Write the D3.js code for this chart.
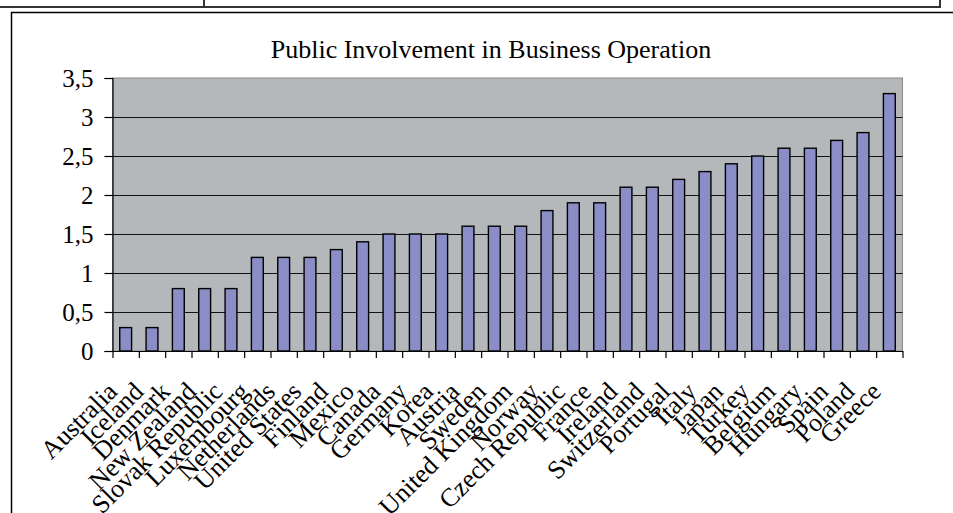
<!DOCTYPE html>
<html>
<head>
<meta charset="utf-8">
<script src="https://cdn.jsdelivr.net/npm/d3@7"></script>
<style>
  html, body { margin: 0; padding: 0; background: #fff; }
  svg { display: block; }
  text { font-family: "Liberation Serif", "Times New Roman", serif; fill: #000; }
</style>
</head>
<body>
<svg id="chart" width="953" height="513"></svg>
<script>
// Public involvement score per country, in ascending order
const countries = [
  "Australia", "Iceland", "Denmark", "New Zealand", "Slovak Republic",
  "Luxembourg", "Netherlands", "United States", "Finland", "Mexico",
  "Canada", "Germany", "Korea", "Austria", "Sweden",
  "United Kingdom", "Norway", "Czech Republic", "France", "Ireland",
  "Switzerland", "Portugal", "Italy", "Japan", "Turkey",
  "Belgium", "Hungary", "Spain", "Poland", "Greece"
];
const scores = [
  0.3, 0.3, 0.8, 0.8, 0.8,
  1.2, 1.2, 1.2, 1.3, 1.4,
  1.5, 1.5, 1.5, 1.6, 1.6,
  1.6, 1.8, 1.9, 1.9, 2.1,
  2.1, 2.2, 2.3, 2.4, 2.5,
  2.6, 2.6, 2.7, 2.8, 3.3
];
const yTicks = [0, 0.5, 1, 1.5, 2, 2.5, 3, 3.5];
const yTickLabels = ["0", "0,5", "1", "1,5", "2", "2,5", "3", "3,5"];
const title = "Public Involvement in Business Operation";

const svg = d3.select("#chart");

// Frame lines of the surrounding document
const frame = svg.append("g").attr("fill", "none");
frame.append("path")
  .attr("d", "M0,7 H940 V0 M204,0 V7")
  .attr("stroke", "#333").attr("stroke-width", 2);
frame.append("path")
  .attr("d", "M11.5,513 V12.5 H953")
  .attr("stroke", "#000").attr("stroke-width", 1.5);

// Plot area
const plot = { left: 112.5, right: 902.5, top: 78, bottom: 351 };

const x = d3.scaleBand()
  .domain(countries)
  .range([plot.left, plot.right])
  .paddingInner(0.55)
  .paddingOuter(0.275);

const xEdges = d3.scaleLinear()
  .domain([0, countries.length])
  .range([plot.left, plot.right]);

const y = d3.scaleLinear()
  .domain([0, 3.5])
  .range([plot.bottom, plot.top]);

// Title
svg.append("text")
  .attr("x", 491)
  .attr("y", 58)
  .attr("text-anchor", "middle")
  .attr("font-size", 26)
  .text(title);

// Background
svg.append("rect")
  .attr("x", plot.left).attr("y", plot.top)
  .attr("width", plot.right - plot.left)
  .attr("height", plot.bottom - plot.top)
  .attr("fill", "#b5b8bb")
  .attr("stroke", "#8a8a8a")
  .attr("stroke-width", 1);

// Horizontal gridlines
svg.append("g")
  .selectAll("line")
  .data(yTicks.filter(d => d > 0 && d < 3.5))
  .join("line")
  .attr("x1", plot.left).attr("x2", plot.right)
  .attr("y1", d => Math.round(y(d)) + 0.5)
  .attr("y2", d => Math.round(y(d)) + 0.5)
  .attr("stroke", "#111")
  .attr("stroke-width", 1.2);

// Bars
svg.append("g")
  .selectAll("rect")
  .data(countries)
  .join("rect")
  .attr("x", d => x(d))
  .attr("y", (d, i) => y(scores[i]))
  .attr("width", x.bandwidth())
  .attr("height", (d, i) => y(0) - y(scores[i]))
  .attr("fill", "#8b8dc7")
  .attr("stroke", "#000")
  .attr("stroke-width", 1.4);

// Y axis
const yAxis = d3.axisLeft(y)
  .tickValues(yTicks)
  .tickFormat((d, i) => yTickLabels[i])
  .tickSize(8)
  .tickPadding(11);
const gy = svg.append("g")
  .attr("transform", `translate(${plot.left},0)`)
  .call(yAxis);
gy.select(".domain").attr("stroke", "#000").attr("stroke-width", 1.2);
gy.selectAll(".tick line").attr("stroke", "#000").attr("stroke-width", 1.2);
gy.selectAll(".tick text")
  .attr("font-size", 25)
  .attr("font-family", "Liberation Serif, Times New Roman, serif")
  .attr("dy", "0.35em");

// X axis line with ticks at category boundaries
const xAxis = d3.axisBottom(xEdges)
  .tickValues(d3.range(countries.length + 1))
  .tickFormat("")
  .tickSize(7)
  .tickSizeOuter(0);
const gx = svg.append("g")
  .attr("transform", `translate(0,${plot.bottom})`)
  .call(xAxis);
gx.select(".domain").attr("stroke", "#000").attr("stroke-width", 1.2);
gx.selectAll(".tick line").attr("stroke", "#000").attr("stroke-width", 1.2);

// Rotated category labels
svg.append("g")
  .selectAll("text")
  .data(countries)
  .join("text")
  .attr("text-anchor", "end")
  .attr("font-size", 26)
  .attr("transform", d => `translate(${x(d) + x.bandwidth() / 2 - 7},${plot.bottom + 42}) rotate(-45)`)
  .text(d => d);
</script>
</body>
</html>
